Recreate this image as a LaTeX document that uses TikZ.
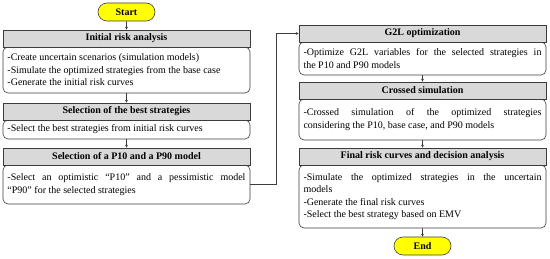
\documentclass[tikz,border=0pt]{standalone}
\usepackage{fontspec}
\setmainfont{Liberation Serif}
\usetikzlibrary{arrows.meta,shapes.misc}
\definecolor{hdrgray}{RGB}{217,217,217}
\definecolor{lncol}{RGB}{60,60,60}
\definecolor{termyel}{RGB}{255,255,0}
\begin{document}
\begin{tikzpicture}[x=1pt,y=-1pt,
  hdr/.style={draw=lncol,line width=0.6pt,fill=hdrgray,minimum width=247pt,minimum height=17pt,inner sep=0pt,font=\fontsize{10}{12}\selectfont\bfseries},
  bodybox/.style={draw=lncol,line width=0.6pt,fill=white,rounded corners=5pt,minimum width=247pt,inner xsep=4.5pt,inner ysep=0pt,text width=238pt,align=justify,font=\fontsize{10}{12.5}\selectfont},
  term/.style={draw=lncol,line width=0.6pt,fill=termyel,rounded rectangle,minimum width=57pt,minimum height=18pt,inner sep=0pt,font=\fontsize{10}{12}\selectfont\bfseries},
  arr/.style={draw=lncol,line width=0.6pt,-{Stealth[length=3pt,width=3pt]}}]
\useasboundingbox (0,0) rectangle (550,259);

% left column
\node[term] (start) at (126.5,12) {Start};
\node[bodybox,minimum height=46pt] (b1) at (126.5,70) {\hyphenpenalty=10000 -Create uncertain scenarios (simulation models)\\-Simulate the optimized strategies from the base case\\-Generate the initial risk curves};
\node[hdr] (h1) at (126.5,38.5) {Initial risk analysis};
\node[bodybox,minimum height=19pt] (b2) at (126.5,129.5) {-Select the best strategies from initial risk curves};
\node[hdr] (h2) at (126.5,111.5) {Selection of the best strategies};
\node[bodybox,minimum height=39pt] (b3) at (126.5,184.5) {\hyphenpenalty=10000 \rightskip=0pt -Select an optimistic “P10” and a pessimistic model\linebreak “P90” for the selected strategies};
\node[hdr] (h3) at (126.5,156.5) {Selection of a P10 and a P90 model};

% right column
\node[bodybox,minimum height=33pt] (b4) at (422.5,58.5) {\hyphenpenalty=10000 \rightskip=0pt -Optimize G2L variables for the selected strategies in\linebreak the P10 and P90 models};
\node[hdr] (h4) at (422.5,33.5) {G2L optimization};
\node[bodybox,minimum height=41pt] (b5) at (422.5,119.5) {\hyphenpenalty=10000 \rightskip=0pt -Crossed simulation of the optimized strategies\linebreak considering the P10, base case, and P90 models};
\node[hdr] (h5) at (422.5,90.5) {Crossed simulation};
\node[bodybox,minimum height=63pt] (b6) at (422.5,196.5) {\hyphenpenalty=10000 \rightskip=0pt -Simulate the optimized strategies in the uncertain\linebreak models\\-Generate the final risk curves\\-Select the best strategy based on EMV};
\node[hdr] (h6) at (422.5,156.5) {Final risk curves and decision analysis};
\node[term] (end) at (422.5,246) {End};

% connectors
\draw[arr] (start) -- (h1);
\draw[arr] (b1) -- (h2);
\draw[arr] (b2) -- (h3);
\draw[arr] (b3.east) -- ++(26,0) |- (h4.west);
\draw[arr] (b4) -- (h5);
\draw[arr] (b5) -- (h6);
\draw[arr] (b6) -- (end);
\end{tikzpicture}
\end{document}
